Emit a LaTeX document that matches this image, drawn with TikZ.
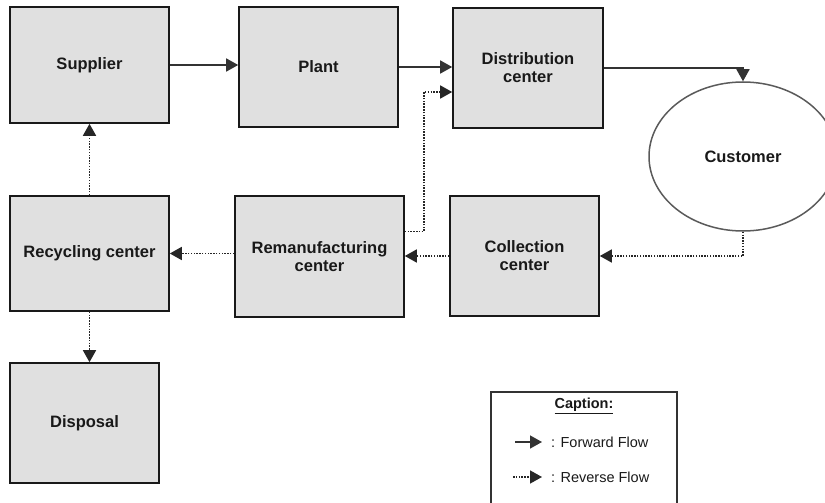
\documentclass[tikz,border=0pt]{standalone}
\usepackage{fontspec}
\setmainfont{Liberation Sans}
\usetikzlibrary{arrows.meta,shapes.geometric}
\definecolor{boxgray}{HTML}{E0E0E0}
\definecolor{linegray}{HTML}{333333}
\definecolor{rimgray}{HTML}{5A5A5A}
\begin{document}
\begin{tikzpicture}[x=1pt,y=-1pt,
    box/.style={draw=black!90,line width=1.6pt,fill=boxgray,align=center,inner sep=0pt,
        font=\fontsize{16.5}{18.5}\selectfont\bfseries,text=black!90},
    fwd/.style={draw=linegray,line width=1.5pt,-{Triangle[length=12pt,width=13pt]}},
    rev/.style={fwd,draw=black!85,line width=1.7pt,dash pattern=on 1.5pt off 1.3pt},
    legend/.style={font=\fontsize{14.5}{17}\selectfont,text=black!90,inner sep=0pt}]
                \useasboundingbox (0,0) rectangle (825,503);
                \node [box,minimum width=159pt,minimum height=116pt] (supplier) at (89.5,65) {Supplier};
                \node [box,minimum width=159pt,minimum height=120pt] (plant) at (318.5,67) {Plant};
                \node [box,minimum width=150pt,minimum height=120pt] (dist) at (528,68) {Distribution\\[-0.5pt]center};
                \node [draw=rimgray,line width=1.5pt,ellipse,minimum width=188pt,minimum height=149pt,inner sep=0pt,
                    font=\fontsize{16.5}{18.5}\selectfont\bfseries,text=black!90] (customer) at (743,156.5) {Customer};
                \node [box,minimum width=149pt,minimum height=120pt] (coll) at (524.5,256) {Collection\\[-0.5pt]center};
                \node [box,minimum width=169pt,minimum height=121pt] (reman) at (319.5,256.5) {Remanufacturing\\[-0.5pt]center};
                \node [box,minimum width=159pt,minimum height=115pt] (recyc) at (89.5,253.5) {Recycling center};
                \node [box,minimum width=149pt,minimum height=120pt] (disp) at (84.5,423) {Disposal};
                \draw [fwd] (supplier.east) -- (supplier.east -| plant.west);
                \draw [fwd] (plant.east) -- (plant.east -| dist.west);
                \draw [fwd] (dist.east) -| (customer.north);
                \draw [rev] (customer.south) |- (coll.east);
                \draw [rev] (coll.west) -- (coll.west -| reman.east);
                \draw [rev] ([yshift=25pt]reman.east) -- ++(19pt,0) |- ([yshift=-24pt]dist.west);
                \draw [rev] (reman.west |- recyc.east) -- (recyc.east);
                \draw [rev] (recyc.north) -- (supplier.south);
                \draw [rev] (recyc.south) -- (recyc.south |- disp.north);
                \draw [draw=black!80,line width=1.2pt] (491,503) -- (491,392) -- (677,392) -- (677,503);
                \node [legend] (caption) at (584,406) {\underline{\textbf{Caption:}}};
                \coordinate (fwda) at (515,442);
                \coordinate (fwdb) at (542,442);
                \coordinate (reva) at (513,477);
                \coordinate (revb) at (542,477);
                \draw [fwd] (fwda) -- (fwdb);
                \draw [rev] (reva) -- (revb);
                \node [legend,anchor=west] (fwdlbl) at (551,442) {: Forward Flow};
                \node [legend,anchor=west] (revlbl) at (551,477) {: Reverse Flow};
            \end{tikzpicture}
\end{document}
